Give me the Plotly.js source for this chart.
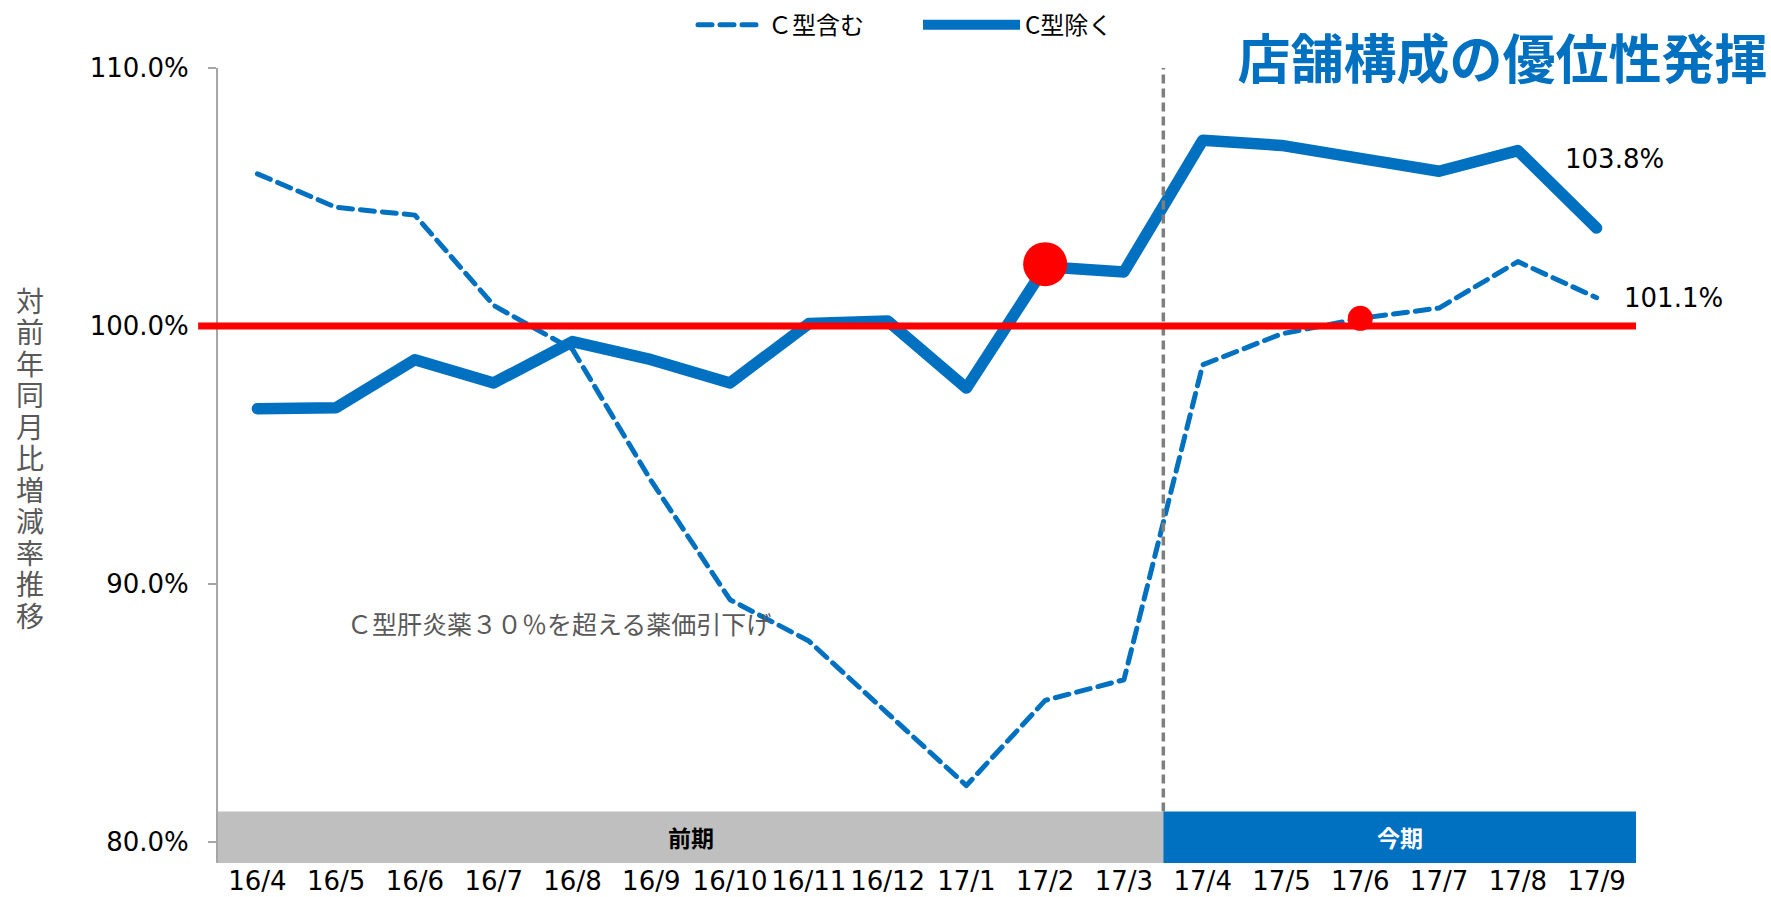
<!DOCTYPE html>
<html>
<head>
<meta charset="utf-8">
<script src="https://cdn.plot.ly/plotly-3.0.1.min.js"></script>
<style>
  html, body { margin: 0; padding: 0; background: #fff; }
  #chart { width: 1771px; height: 897px; }
  .scatterlayer path.js-line { stroke-linecap: round !important; stroke-linejoin: round !important; }
  .legend path.js-line { stroke-linecap: round !important; }
</style>
</head>
<body>
<div id="chart"></div>
<script>
// ---- data ----
const categories = ['16/4','16/5','16/6','16/7','16/8','16/9','16/10','16/11','16/12','17/1','17/2','17/3','17/4','17/5','17/6','17/7','17/8','17/9'];
const withC    = [105.9, 104.6, 104.3, 100.8, 99.1, 94.0, 89.4, 87.8, 85.0, 82.2, 85.5, 86.3, 98.5, 99.7, 100.3, 100.7, 102.5, 101.1];
const withoutC = [96.8, 96.84, 98.7, 97.8, 99.4, 98.7, 97.8, 100.1, 100.2, 97.6, 102.3, 102.1, 107.2, 107.0, 106.5, 106.0, 106.8, 103.8];
const seriesNames = ['Ｃ型含む', 'C型除く'];
const bigMarkerCats = ['17/2'];
const bigMarkerVals = [102.4];
const smallMarkerCats = ['17/6'];
const smallMarkerVals = [100.3];
const yTickVals = [80, 90, 100, 110];
const yTickText = ['80.0%', '90.0%', '100.0%', '110.0%'];
const baseline = 100;
const periodLabels = ['前期', '今期'];
const endLabels = ['103.8%', '101.1%'];
const noteText = 'Ｃ型肝炎薬３０％を超える薬価引下げ';
const titleText = '店舗構成の優位性発揮';
const yTitleText = '対前年同月比増減率推移';

const BLUE = '#0070C0', RED = '#FF0000';
const NUM_FONT = 'DejaVu Sans, Noto Sans CJK JP, sans-serif';
const JP_FONT = 'Noto Sans CJK JP, sans-serif';

const splitIdx = categories.indexOf('17/4') - 0.5;
const lastIdx = categories.length - 1;
const bandBottom = 79.2, bandTop = 81.2;

const traces = [
  { type: 'scatter', mode: 'lines', name: seriesNames[0], legend: 'legend', x: categories, y: withC,
    line: { color: BLUE, width: 5, dash: '14px,8px' } },
  { type: 'scatter', mode: 'lines', name: seriesNames[1], legend: 'legend2', x: categories, y: withoutC,
    line: { color: BLUE, width: 11.5 } },
  { type: 'scatter', mode: 'markers', showlegend: false, x: bigMarkerCats, y: bigMarkerVals,
    marker: { color: RED, size: 44, line: { width: 0 } } },
  { type: 'scatter', mode: 'markers', showlegend: false, x: smallMarkerCats, y: smallMarkerVals,
    marker: { color: RED, size: 25, line: { width: 0 } } }
];

const legendFont = { family: JP_FONT, size: 24, color: '#000' };
const layout = {
  width: 1771, height: 897,
  margin: { l: 218, r: 135, t: 68, b: 34, autoexpand: false },
  paper_bgcolor: '#fff', plot_bgcolor: '#fff',
  showlegend: true,
  title: { text: titleText, xref: 'container', yref: 'container', x: 0.998, xanchor: 'right', y: 0.933, yanchor: 'middle',
           font: { family: JP_FONT, size: 53, color: BLUE, weight: 'bold' } },
  legend: { orientation: 'h', x: (693 - 218) / 1418, xanchor: 'left', y: 1.054, yanchor: 'middle',
            font: legendFont, itemwidth: 65, bgcolor: 'rgba(0,0,0,0)' },
  legend2: { orientation: 'h', x: (918 - 218) / 1418, xanchor: 'left', y: 1.054, yanchor: 'middle',
            font: legendFont, itemwidth: 97, bgcolor: 'rgba(0,0,0,0)' },
  xaxis: { type: 'category', range: [-0.5, lastIdx + 0.5], showgrid: false, zeroline: false, showline: false,
           ticks: '', tickfont: { family: NUM_FONT, size: 26, color: '#000' }, fixedrange: true },
  yaxis: { range: [bandBottom, 110], tickvals: yTickVals, ticktext: yTickText, showgrid: false, zeroline: false,
           showline: true, linecolor: '#A6A6A6', linewidth: 2, ticks: 'outside', ticklen: 8, tickcolor: '#A6A6A6', tickwidth: 2,
           tickfont: { family: NUM_FONT, size: 26, color: '#000' }, ticklabelstandoff: 14, fixedrange: true },
  shapes: [
    { type: 'line', layer: 'above', xref: 'x', yref: 'y', x0: splitIdx, x1: splitIdx, y0: bandTop, y1: 110,
      line: { color: '#7F7F7F', width: 3.5, dash: '9px,5px' } },
    { type: 'line', layer: 'above', xref: 'paper', yref: 'y', x0: -0.014, x1: 1, y0: baseline, y1: baseline,
      line: { color: RED, width: 7 } },
    { type: 'rect', layer: 'above', xref: 'x', yref: 'y', x0: -0.5, x1: splitIdx, y0: bandBottom, y1: bandTop,
      fillcolor: '#BFBFBF', line: { width: 0 } },
    { type: 'rect', layer: 'above', xref: 'x', yref: 'y', x0: splitIdx, x1: lastIdx + 0.5, y0: bandBottom, y1: bandTop,
      fillcolor: BLUE, line: { width: 0 } }
  ],
  annotations: [
    { xref: 'x', yref: 'y', x: (splitIdx - 0.5) / 2, y: (bandBottom + bandTop) / 2, text: periodLabels[0], showarrow: false,
      font: { family: JP_FONT, size: 23, color: '#000', weight: 'bold' } },
    { xref: 'x', yref: 'y', x: (splitIdx + lastIdx + 0.5) / 2, y: (bandBottom + bandTop) / 2, text: periodLabels[1], showarrow: false,
      font: { family: JP_FONT, size: 23, color: '#fff', weight: 'bold' } },
    { xref: 'x', yref: 'y', x: lastIdx, y: withoutC[lastIdx], text: endLabels[0], showarrow: false, xshift: 18, yshift: 69,
      font: { family: NUM_FONT, size: 26, color: '#000' } },
    { xref: 'x', yref: 'y', x: lastIdx, y: withC[lastIdx], text: endLabels[1], showarrow: false, xshift: 77, yshift: 0,
      font: { family: NUM_FONT, size: 26, color: '#000' } },
    { xref: 'x', yref: 'y', x: 3.83, y: 88.5, text: noteText, showarrow: false,
      font: { family: JP_FONT, size: 25, color: '#595959' } },
    { xref: 'paper', yref: 'paper', x: (30 - 218) / 1418, xanchor: 'center', y: (863 - 460) / 795, yanchor: 'middle',
      text: yTitleText, showarrow: false,
      font: { family: JP_FONT, size: 28, color: '#595959' } }
  ]
};

Plotly.newPlot('chart', traces, layout, { displayModeBar: false, staticPlot: true }).then(function () {
  // render the y-axis title as vertical (upright stacked) Japanese text
  const texts = document.querySelectorAll('#chart .annotation-text');
  texts.forEach(function (el) {
    if (el.textContent === yTitleText) {
      el.style.writingMode = 'vertical-rl';
      el.style.letterSpacing = '3.5px';
      el.setAttribute('text-anchor', 'middle');
      const r = el.getBoundingClientRect();
      const dx = 30 - (r.left + r.width / 2);
      const dy = 460 - (r.top + r.height / 2);
      const prev = el.getAttribute('transform') || '';
      el.setAttribute('transform', prev + ' translate(' + dx + ',' + dy + ')');
    }
  });
});
</script>
</body>
</html>
